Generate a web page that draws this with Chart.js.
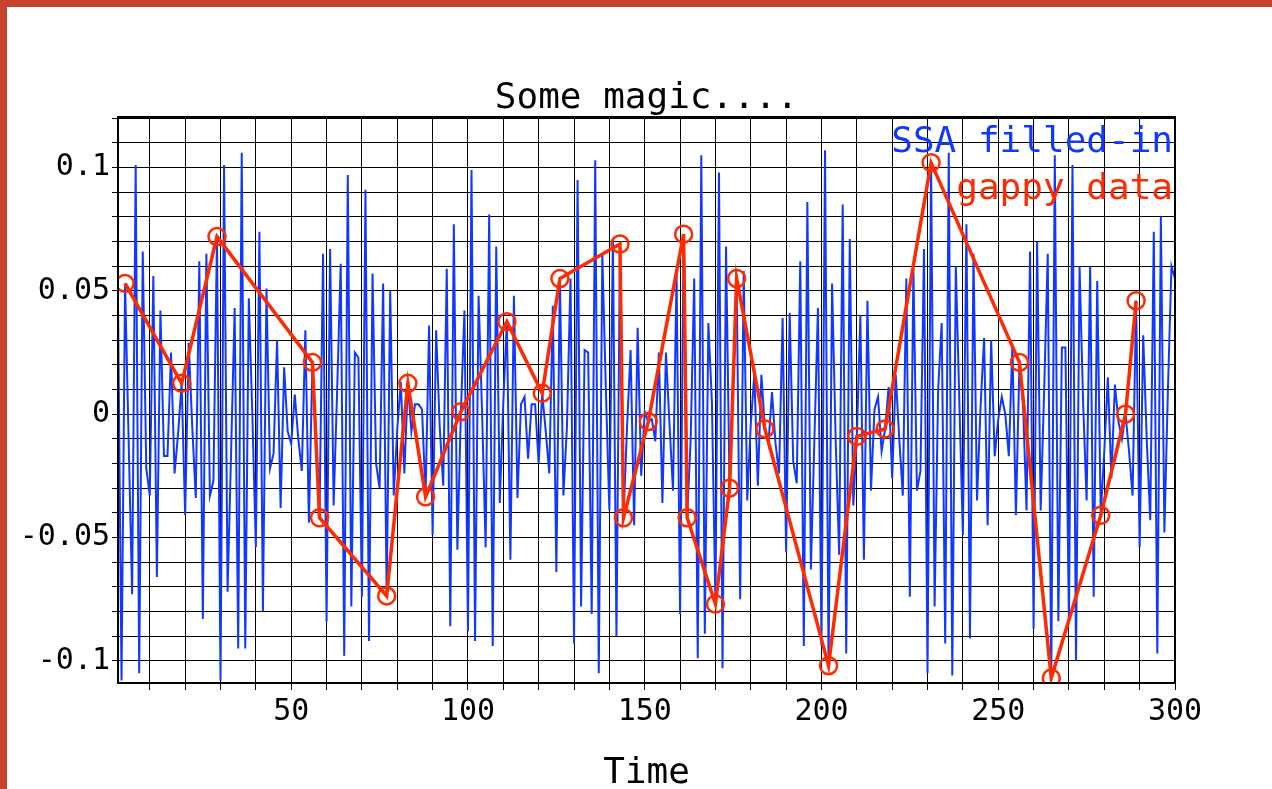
<!DOCTYPE html>
<html>
<head>
<meta charset="utf-8">
<title>Some magic....</title>
<script src="https://cdn.jsdelivr.net/npm/chart.js@4.4.1/dist/chart.umd.min.js"></script>
<style>
  html, body { margin: 0; padding: 0; background: #c8432e; overflow: hidden; }
  canvas { display: block; }
</style>
</head>
<body>
<canvas id="grafico" width="1272" height="789"></canvas>
<script>
// SSA filled-in series, one value per time step (1..300)
const ssaValues = [
  0.045, -0.108, 0.053, -0.010, -0.073, 0.101, -0.105, 0.066, -0.022, -0.033,
  0.056, -0.066, 0.042, -0.017, -0.017, 0.025, -0.024, -0.008, 0.0125, -0.041,
  0.029, -0.005, -0.034, 0.062, -0.083, 0.065, -0.033, -0.027, 0.072, -0.108,
  0.101, -0.072, -0.015, 0.043, -0.095, 0.106, -0.095, 0.047, 0.000, -0.054,
  0.074, -0.080, 0.051, -0.022, -0.016, 0.030, -0.038, 0.019, -0.007, -0.012,
  0.008, -0.010, -0.023, 0.034, -0.044, 0.021, -0.010, -0.042, 0.065, -0.084,
  0.067, -0.037, 0.010, 0.061, -0.098, 0.097, -0.078, 0.025, 0.023, -0.074,
  0.091, -0.092, 0.057, -0.020, -0.030, 0.053, -0.0737, 0.050, -0.033, -0.006,
  0.013, -0.024, 0.0125, -0.007, 0.004, 0.004, 0.002, -0.0335, 0.036, -0.049,
  0.034, -0.005, -0.029, 0.059, -0.086, 0.077, -0.055, 0.001, 0.042, -0.088,
  0.099, -0.092, 0.048, 0.000, -0.054, 0.081, -0.094, 0.068, -0.036, 0.005,
  0.0375, -0.059, 0.048, -0.034, 0.004, 0.007, -0.018, 0.004, 0.004, -0.020,
  0.0085, -0.007, -0.024, 0.044, -0.064, 0.055, -0.033, -0.005, 0.055, -0.093,
  0.095, -0.078, 0.026, 0.025, -0.081, 0.103, -0.105, 0.065, 0.010, -0.039,
  0.071, -0.090, 0.069, -0.042, -0.005, 0.026, -0.045, 0.035, -0.025, 0.001,
  -0.003, -0.002, -0.011, 0.025, -0.036, 0.025, -0.004, -0.031, 0.057, -0.081,
  0.073, -0.042, -0.010, 0.055, -0.099, 0.105, -0.089, 0.037, 0.005, -0.077,
  0.098, -0.103, 0.068, -0.030, 0.010, 0.055, -0.075, 0.058, -0.035, -0.004,
  0.016, -0.029, 0.016, -0.006, -0.012, 0.009, -0.012, -0.024, 0.039, -0.056,
  0.041, -0.019, -0.028, 0.062, -0.094, 0.086, -0.063, -0.010, 0.043, -0.094,
  0.107, -0.102, 0.053, -0.010, -0.057, 0.085, -0.097, 0.071, -0.037, -0.009,
  0.040, -0.059, 0.046, -0.031, 0.002, 0.007, -0.015, -0.006, 0.011, -0.026,
  0.016, -0.010, -0.033, 0.055, -0.074, 0.059, -0.031, -0.023, 0.067, -0.105,
  0.102, -0.078, 0.010, 0.037, -0.093, 0.106, -0.106, 0.060, 0.005, -0.049,
  0.077, -0.091, 0.065, -0.035, 0.003, 0.031, -0.045, 0.030, -0.017, -0.002,
  0.007, 0.000, -0.017, 0.028, -0.041, 0.021, 0.005, -0.039, 0.066, -0.087,
  0.070, -0.039, 0.010, 0.065, -0.107, 0.105, -0.084, 0.027, 0.027, -0.084,
  0.101, -0.100, 0.060, 0.005, -0.035, 0.060, -0.074, 0.054, -0.041, -0.015,
  0.015, -0.026, 0.012, -0.003, -0.010, 0.000, -0.015, -0.033, 0.046, -0.054,
  0.032, -0.010, -0.043, 0.074, -0.097, 0.080, -0.048, 0.010, 0.060, 0.055
];
const ssaTime = ssaValues.map((_, i) => i + 1);

// gappy observations
const gappyTime = [3, 19, 29, 56, 58, 77, 83, 88, 98, 111, 121, 126, 143, 144, 151,
  161, 162, 170, 174, 176, 184, 202, 210, 218, 231, 256, 265, 279, 286, 289];
const gappyValues = [0.053, 0.0125, 0.072, 0.021, -0.042, -0.0737, 0.0125, -0.0335, 0.001, 0.0375,
  0.0085, 0.055, 0.069, -0.042, -0.003, 0.073, -0.042, -0.077, -0.030, 0.055,
  -0.006, -0.102, -0.009, -0.006, 0.102, 0.021, -0.107, -0.041, 0.000, 0.046];

// axes
const xGrid = [10, 20, 30, 40, 50, 60, 70, 80, 90, 100, 110, 120, 130, 140, 150,
  160, 170, 180, 190, 200, 210, 220, 230, 240, 250, 260, 270, 280, 290, 300];
const xLabels = [50, 100, 150, 200, 250, 300];
const yGrid = [-0.10, -0.09, -0.08, -0.07, -0.06, -0.05, -0.04, -0.03, -0.02, -0.01, 0,
  0.01, 0.02, 0.03, 0.04, 0.05, 0.06, 0.07, 0.08, 0.09, 0.10, 0.11, 0.12];
const yLabelValues = [-0.1, -0.05, 0, 0.05, 0.1];
const yLabelTexts = ['-0.1', '-0.05', '0', '0.05', '0.1'];

const titulo = 'Some magic....';
const tituloX = 'Time';
const leyenda = [
  { texto: 'SSA filled-in', color: '#1038ff' },
  { texto: 'gappy data', color: '#ff2a00' }
];

const fuente = "'DejaVu Sans Mono', 'Liberation Mono', monospace";

const marco = {
  id: 'marco',
  beforeDraw(chart) {
    const ctx = chart.ctx;
    ctx.save();
    ctx.fillStyle = '#c8432e';
    ctx.fillRect(0, 0, chart.width, chart.height);
    ctx.fillStyle = '#ffffff';
    ctx.fillRect(7, 7, chart.width - 7, chart.height - 7);
    ctx.restore();
  },
  afterDraw(chart) {
    const ctx = chart.ctx;
    const a = chart.chartArea;
    ctx.save();
    ctx.strokeStyle = '#000';
    ctx.lineWidth = 2;
    ctx.strokeRect(a.left, a.top, a.right - a.left, a.bottom - a.top);

    ctx.fillStyle = '#000';
    ctx.textAlign = 'center';
    ctx.textBaseline = 'alphabetic';
    ctx.font = '36px ' + fuente;
    ctx.fillText(titulo, (a.left + a.right) / 2, 108);
    ctx.fillText(tituloX, (a.left + a.right) / 2, 783);

    ctx.textAlign = 'right';
    leyenda.forEach((item, i) => {
      ctx.fillStyle = item.color;
      ctx.fillText(item.texto, a.right - 2, 152 + i * 47);
    });
    ctx.restore();
  }
};

const ctx = document.getElementById('grafico').getContext('2d');

new Chart(ctx, {
  type: 'line',
  data: {
    datasets: [
      {
        label: 'gappy data',
        data: gappyTime.map((t, i) => ({ x: t, y: gappyValues[i] })),
        borderColor: '#ff2a00',
        borderWidth: 3.5,
        pointRadius: 8.5,
        pointBorderWidth: 2.5,
        pointBorderColor: '#ff2a00',
        pointBackgroundColor: 'rgba(0,0,0,0)',
        tension: 0,
        order: 0
      },
      {
        label: 'SSA filled-in',
        data: ssaTime.map((t, i) => ({ x: t, y: ssaValues[i] })),
        borderColor: '#1038ff',
        borderWidth: 2,
        pointRadius: 0,
        tension: 0,
        order: 1
      }
    ]
  },
  options: {
    responsive: false,
    animation: false,
    devicePixelRatio: 1,
    layout: { padding: { left: 0, top: 117, right: 97, bottom: 0 } },
    plugins: {
      legend: { display: false },
      tooltip: { enabled: false },
      title: { display: false }
    },
    scales: {
      x: {
        type: 'linear',
        min: 1,
        max: 300,
        afterBuildTicks: scale => { scale.ticks = xGrid.map(v => ({ value: v })); },
        afterFit: scale => { scale.height = 106; },
        grid: { color: '#000', lineWidth: 1, tickLength: 7, tickColor: '#000' },
        border: { color: '#000', width: 2 },
        ticks: {
          autoSkip: false,
          maxRotation: 0,
          padding: 4,
          color: '#000',
          font: { family: fuente, size: 30 },
          callback: v => xLabels.includes(v) ? String(v) : ''
        }
      },
      y: {
        type: 'linear',
        min: -0.109,
        max: 0.1205,
        afterBuildTicks: scale => { scale.ticks = yGrid.map(v => ({ value: v })); },
        afterFit: scale => { scale.width = 118; },
        grid: { color: '#000', lineWidth: 1, tickLength: 6, tickColor: '#000' },
        border: { color: '#000', width: 2 },
        ticks: {
          autoSkip: false,
          padding: 2,
          color: '#000',
          font: { family: fuente, size: 30 },
          callback: v => {
            const k = yLabelValues.findIndex(l => Math.abs(l - v) < 1e-6);
            return k >= 0 ? yLabelTexts[k] : '';
          }
        }
      }
    }
  },
  plugins: [marco]
});
</script>
</body>
</html>
